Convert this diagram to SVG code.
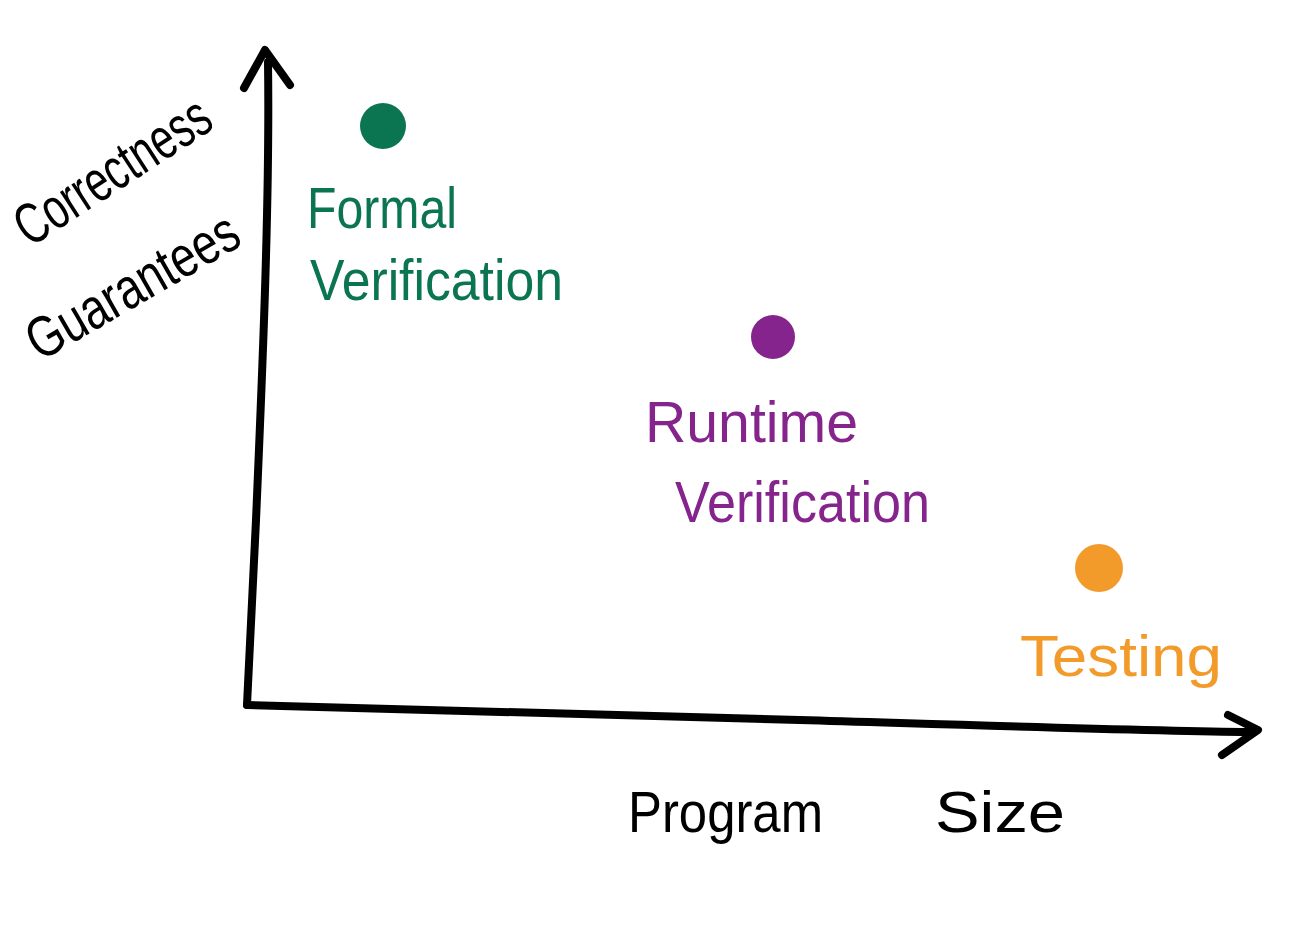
<svg xmlns="http://www.w3.org/2000/svg" width="1313" height="930" viewBox="0 0 1313 930">
<style>
.ax{fill:none;stroke:#000;stroke-width:8;stroke-linecap:round;stroke-linejoin:round}
.lbl{font-family:"Liberation Sans",Arial,sans-serif;font-size:58px}
.blk{fill:#000}
.grn{fill:#0b7552}
.pur{fill:#84248c}
.org{fill:#f29b2b}
</style>
<rect width="1313" height="930" fill="#fff"/>
<g id="connectors">
<path class="ax" d="M268,62 C270,200 262,380 256,520 C252,600 249,660 247,705"/>
<path class="ax" d="M244,88 L265,50 L290,85"/>
<path class="ax" d="M247,705 C400,710 600,716 800,720 C1000,726 1150,731 1250,732"/>
<path class="ax" d="M1228,715 L1258,730 L1222,755"/>
</g>
<g id="ylabel">
<text class="lbl blk" font-size="54" transform="translate(30,248) rotate(-33)" textLength="222" lengthAdjust="spacingAndGlyphs">Correctness</text>
<text class="lbl blk" transform="translate(40,362) rotate(-30)" textLength="236" lengthAdjust="spacingAndGlyphs">Guarantees</text>
</g>
<g id="xlabel">
<text class="lbl blk" x="628" y="832" font-size="62" textLength="195" lengthAdjust="spacingAndGlyphs">Program</text>
<text class="lbl blk" x="935" y="832" font-size="62" textLength="130" lengthAdjust="spacingAndGlyphs">Size</text>
</g>
<g id="formal">
<circle class="grn" cx="383" cy="126" r="23"/>
<text class="lbl grn" x="307" y="228" textLength="150" lengthAdjust="spacingAndGlyphs">Formal</text>
<text class="lbl grn" x="310" y="300" textLength="253" lengthAdjust="spacingAndGlyphs">Verification</text>
</g>
<g id="runtime">
<circle class="pur" cx="773" cy="337" r="22"/>
<text class="lbl pur" x="645" y="442" textLength="213" lengthAdjust="spacingAndGlyphs">Runtime</text>
<text class="lbl pur" x="675" y="522" textLength="255" lengthAdjust="spacingAndGlyphs">Verification</text>
</g>
<g id="testing">
<circle class="org" cx="1099" cy="568" r="24"/>
<text class="lbl org" x="1020" y="676" textLength="202" lengthAdjust="spacingAndGlyphs">Testing</text>
</g>
</svg>
